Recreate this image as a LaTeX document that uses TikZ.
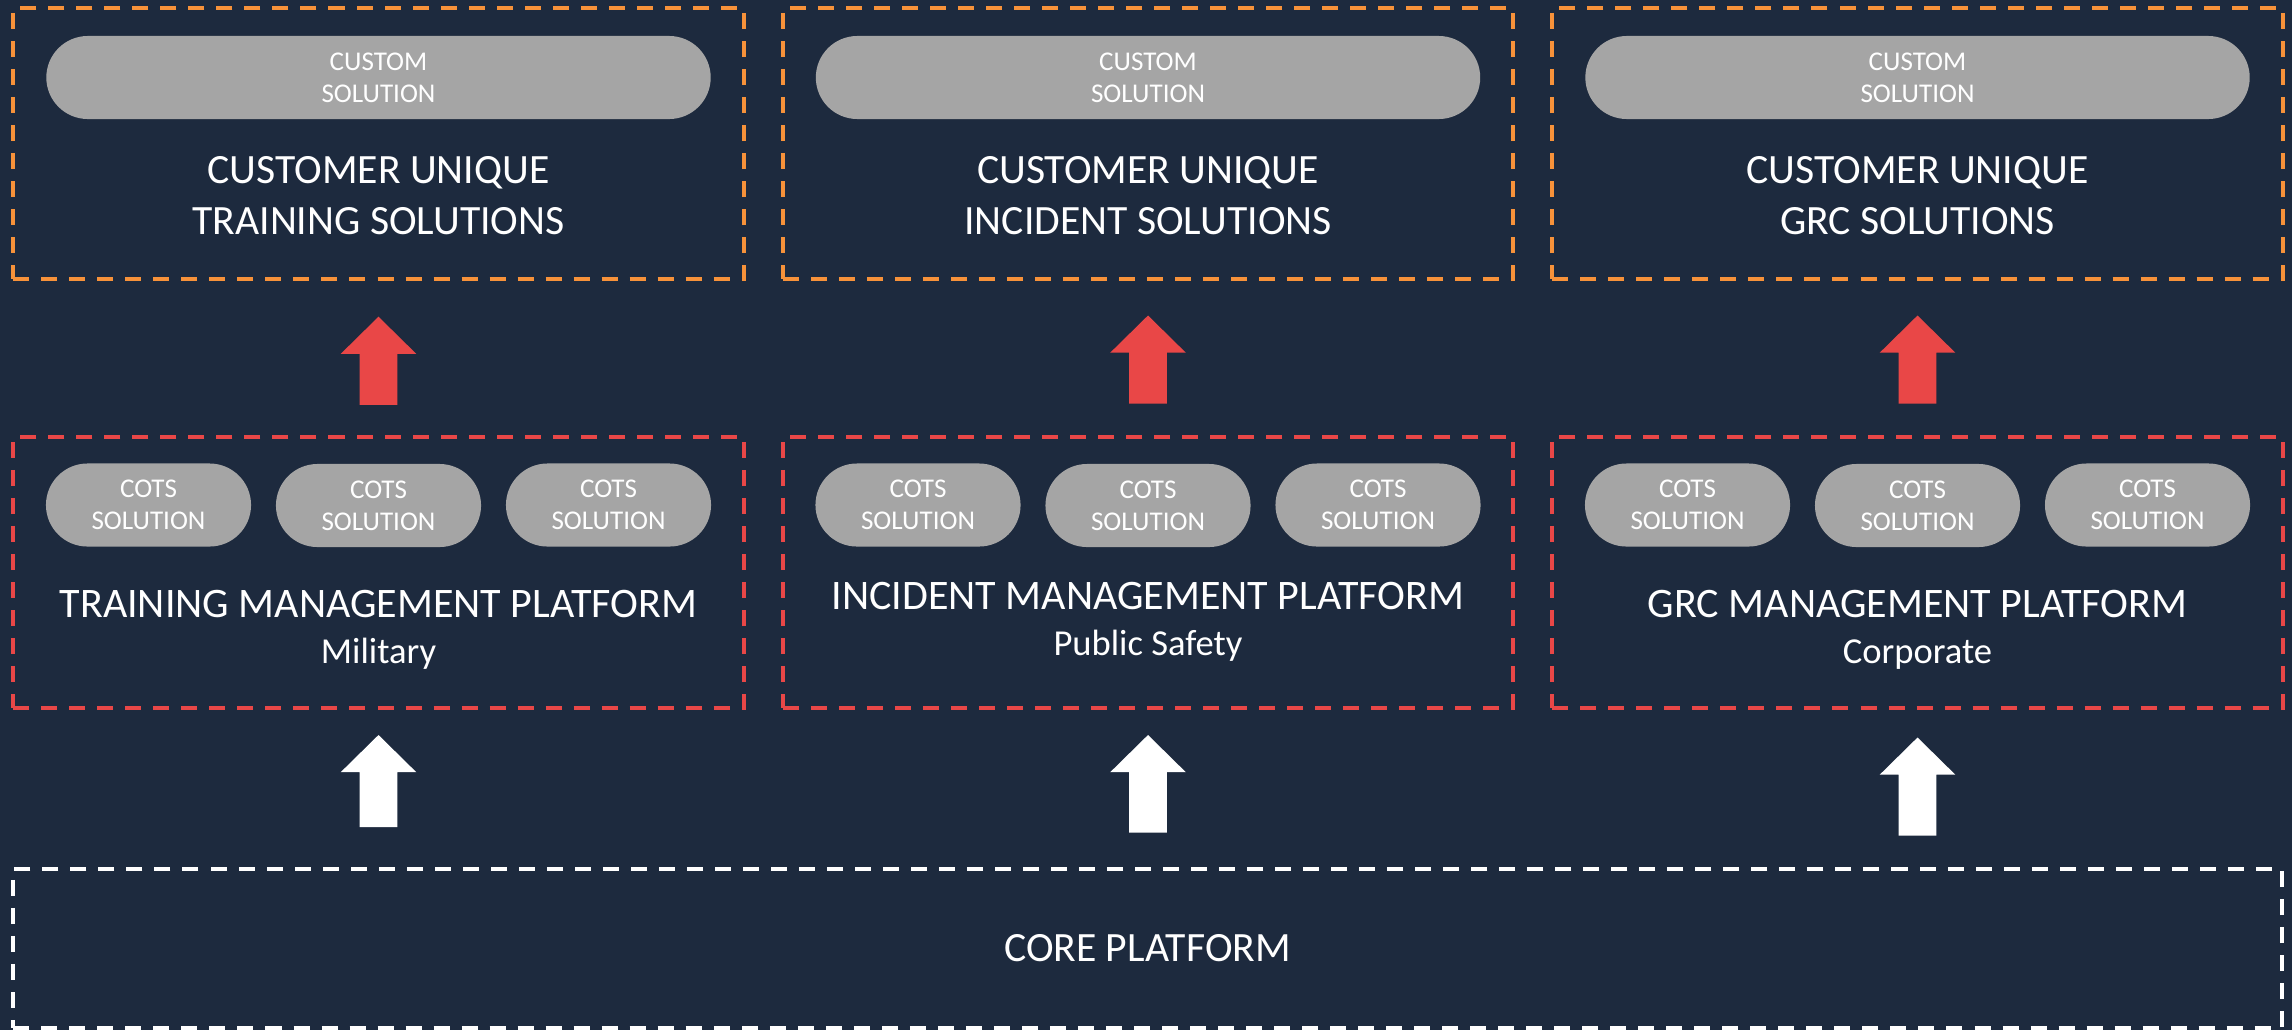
\documentclass[tikz,border=0pt]{standalone}
\usepackage{fontspec}
\setmainfont{Carlito}
\usetikzlibrary{calc}
\definecolor{navybg}{HTML}{1D2A3E}
\definecolor{boxorange}{HTML}{F7923A}
\definecolor{boxred}{HTML}{E94747}
\definecolor{pillgray}{HTML}{A5A5A5}
\def\blockarrow[#1](#2)(#3){\fill[#1] (#2) -- ++(37.8,37.2) -- ++(-18.9,0) -- ++(0,#3) -- ++(-37.8,0) -- ++(0,-#3) -- ++(-18.9,0) -- cycle;}

\begin{document}
\begin{tikzpicture}[x=0.01cm,y=-0.01cm,
	dashbox/.style={draw=#1, line width=0.04cm, dash pattern=on 0.16cm off 0.12cm, minimum width=7.3cm, minimum height=2.71cm, inner sep=0pt},
	pill/.style={fill=pillgray, rounded corners=0.415cm, minimum height=0.83cm, inner sep=0pt, text=white, align=center, font=\fontsize{7.7pt}{9.2pt}\selectfont},
	bigtext/.style={text=white, align=center, anchor=base, inner sep=0pt, font=\fontsize{11.85pt}{14.5pt}\selectfont},
	plattext/.style={text=white, anchor=base, inner sep=0pt, font=\fontsize{11.95pt}{14pt}\selectfont},
	subtext/.style={text=white, anchor=base, inner sep=0pt, font=\fontsize{10.4pt}{12.5pt}\selectfont}]
		%%%%% START %%%%%
		\fill[navybg] (0,0) rectangle (2292,1030);
		\useasboundingbox (0,0) rectangle (2292,1030);
		
		% customer unique row
		\node[dashbox=boxorange] (cust1) at (378.5,143.5) {};
		\node[pill, minimum width=6.64cm] (custpill1) at (378.5,77.5) {CUSTOM\\SOLUTION};
		\node[bigtext] (cust1txt) at (378.5,234) {CUSTOMER UNIQUE\\TRAINING SOLUTIONS};
		
		\node[dashbox=boxorange] (cust2) at (1148,143.5) {};
		\node[pill, minimum width=6.64cm] (custpill2) at (1148,77.5) {CUSTOM\\SOLUTION};
		\node[bigtext] (cust2txt) at (1148,234) {CUSTOMER UNIQUE\\INCIDENT SOLUTIONS};
		
		\node[dashbox=boxorange] (cust3) at (1917.5,143.5) {};
		\node[pill, minimum width=6.64cm] (custpill3) at (1917.5,77.5) {CUSTOM\\SOLUTION};
		\node[bigtext] (cust3txt) at (1917.5,234) {CUSTOMER UNIQUE\\GRC SOLUTIONS};
		
		% red arrows
		\blockarrow[boxred](378.5,316.7)(51)
		\blockarrow[boxred](1148,315.5)(51)
		\blockarrow[boxred](1917.5,315.5)(51)
		
		% platform row
		\node[dashbox=boxred] (plat1) at (378.5,572.5) {};
		\node[pill, minimum width=2.05cm] (cots11) at (148.5,505) {COTS\\SOLUTION};
		\node[pill, minimum width=2.05cm] (cots12) at (378.5,505.5) {COTS\\SOLUTION};
		\node[pill, minimum width=2.05cm] (cots13) at (608.5,505) {COTS\\SOLUTION};
		\node[plattext] (plat1txt) at (378.5,617) {TRAINING MANAGEMENT PLATFORM};
		\node[subtext] (plat1sub) at (378.5,663) {Military};
		
		\node[dashbox=boxred] (plat2) at (1148,572.5) {};
		\node[pill, minimum width=2.05cm] (cots21) at (918,505) {COTS\\SOLUTION};
		\node[pill, minimum width=2.05cm] (cots22) at (1148,505.5) {COTS\\SOLUTION};
		\node[pill, minimum width=2.05cm] (cots23) at (1378,505) {COTS\\SOLUTION};
		\node[plattext] (plat2txt) at (1148,609) {INCIDENT MANAGEMENT PLATFORM};
		\node[subtext] (plat2sub) at (1148,655) {Public Safety};
		
		\node[dashbox=boxred] (plat3) at (1917.5,572.5) {};
		\node[pill, minimum width=2.05cm] (cots31) at (1687.5,505) {COTS\\SOLUTION};
		\node[pill, minimum width=2.05cm] (cots32) at (1917.5,505.5) {COTS\\SOLUTION};
		\node[pill, minimum width=2.05cm] (cots33) at (2147.5,505) {COTS\\SOLUTION};
		\node[plattext] (plat3txt) at (1917.5,617) {GRC MANAGEMENT PLATFORM};
		\node[subtext] (plat3sub) at (1917.5,663) {Corporate};
		
		% white arrows
		\blockarrow[white](378.5,735)(55)
		\blockarrow[white](1148,735)(60.5)
		\blockarrow[white](1917.5,737.5)(61)
		
		% core
		\node[dashbox=white, minimum width=22.67cm, minimum height=1.59cm, text=white, font=\fontsize{11.85pt}{14pt}\selectfont] (core) at (1147.5,948.5) {CORE PLATFORM};
		%%%%% END %%%%%
	\end{tikzpicture}
\end{document}
